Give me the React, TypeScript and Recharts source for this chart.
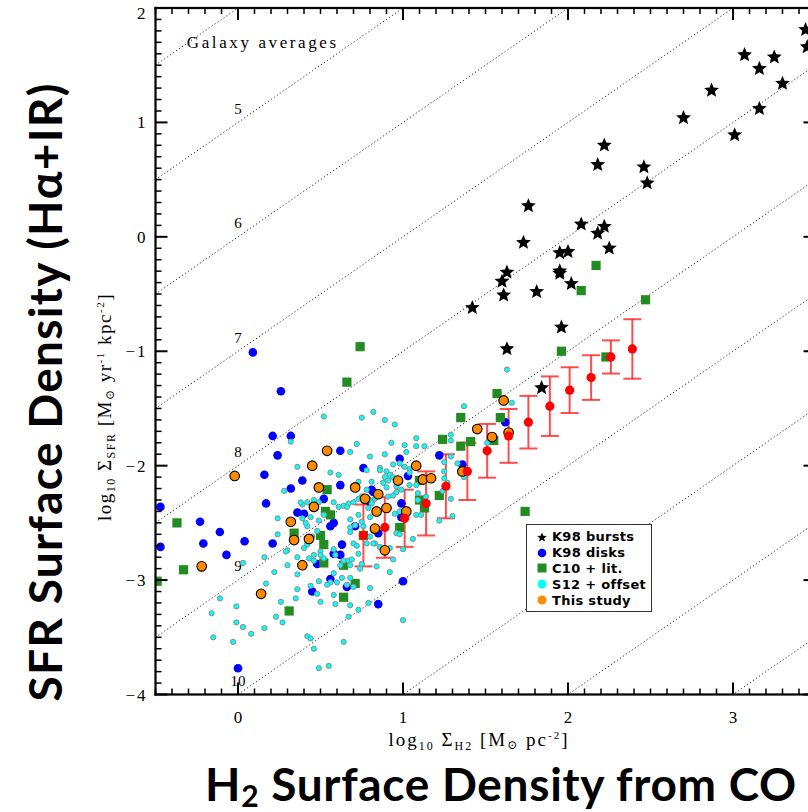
import React from "react";
import { ScatterChart, Scatter, XAxis, YAxis, ReferenceLine, ErrorBar, Legend } from "recharts";

// log10 Sigma_H2 [Msun/pc^2] vs log10 Sigma_SFR [Msun/yr/kpc^2]
const k98Bursts: [number, number][] = [
  [3.44, 1.81], [3.45, 1.66], [3.07, 1.59], [3.25, 1.57], [3.16, 1.47], [3.3, 1.34], [2.87, 1.28],
  [3.16, 1.12], [2.7, 1.04], [3.01, 0.89], [2.22, 0.8], [2.18, 0.63], [2.46, 0.61], [2.48, 0.47],
  [1.76, 0.27], [1.73, -0.05], [2.08, 0.11], [2.22, 0.09], [2.18, 0.03], [2.25, -0.1], [1.95, -0.14],
  [2.0, -0.13], [1.63, -0.31], [1.6, -0.39], [1.95, -0.3], [1.95, -0.32], [2.02, -0.41], [1.61, -0.51],
  [1.81, -0.48], [1.42, -0.62], [1.96, -0.79], [1.63, -0.98], [1.84, -1.32],
];

const k98Disks: [number, number][] = [
  [0.09, -1.01], [0.26, -1.35], [0.21, -1.74], [0.32, -1.74], [0.24, -1.91], [0.62, -1.87], [0.16, -2.08],
  [0.76, -2.02], [1.22, -1.91], [0.98, -1.94], [0.39, -2.13], [0.32, -2.2], [0.17, -2.33], [-0.47, -2.36],
  [-0.23, -2.49], [-0.11, -2.58], [-0.47, -2.71], [-0.21, -2.68], [0.04, -2.66], [0.21, -2.68], [0.36, -2.41],
  [0.4, -2.42], [-0.07, -2.78], [0.45, -3.1], [0.0, -3.77], [0.48, -2.86], [0.52, -2.29], [0.62, -2.17],
  [0.56, -2.53], [0.58, -2.77], [0.62, -2.78], [0.63, -2.69], [0.56, -2.99], [0.66, -3.06], [0.85, -3.21],
  [1.0, -3.01], [0.82, -2.23], [0.85, -2.59], [0.71, -2.53], [0.99, -2.33], [1.36, -1.99], [1.03, -2.09],
  [0.99, -2.45], [0.8, -2.32], [0.81, -2.21], [1.62, -1.62], [0.58, -2.5],
];

const c10Lit: [number, number][] = [
  [2.17, -0.25], [2.08, -0.47], [2.47, -0.55], [1.96, -1.0], [2.23, -1.05], [1.57, -1.37], [1.59, -1.58],
  [1.41, -1.79], [0.74, -0.96], [0.66, -1.27], [1.35, -1.58], [1.24, -1.77], [1.35, -1.83], [-0.37, -2.5],
  [-0.33, -2.91], [-0.49, -3.01], [0.54, -2.21], [0.53, -2.4], [0.56, -2.43], [0.34, -2.59], [0.5, -2.61],
  [0.52, -2.69], [0.52, -2.85], [0.64, -2.87], [0.71, -3.03], [0.64, -3.15], [0.31, -3.27], [0.76, -2.61],
  [0.98, -2.54], [1.1, -2.13], [1.13, -2.37], [1.22, -2.26], [1.1, -2.3], [1.74, -2.4], [1.55, -1.78],
];

const s12Offset: [number, number][] = [
  [1.37, -1.48], [0.75, -1.58], [0.82, -1.53], [0.89, -1.6], [0.95, -1.64], [0.52, -1.57], [0.72, -1.81],
  [0.68, -1.88], [0.93, -1.8], [1.01, -1.82], [1.08, -1.76], [1.08, -1.83], [1.13, -1.83], [1.02, -1.88],
  [0.89, -1.9], [0.8, -1.92], [1.25, -1.97], [1.29, -1.92], [1.29, -1.73], [1.33, -1.98],
  [0.61, -2.08], [0.56, -2.06], [0.78, -2.04], [0.86, -2.02], [0.86, -2.04], [0.94, -1.99], [0.98, -1.98],
  [1.01, -2.01], [1.04, -2.03], [0.9, -2.05], [0.92, -2.08], [0.94, -2.1], [0.89, -2.1], [0.91, -2.13],
  [1.04, -2.06], [0.73, -2.14], [0.81, -2.14], [0.88, -2.15], [0.9, -2.19], [0.96, -2.18], [0.99, -2.21],
  [1.04, -2.17], [1.08, -2.17], [1.14, -2.27], [1.09, -2.24], [1.25, -2.05], [1.25, -2.11], [1.27, -2.15],
  [1.24, -2.22], [1.29, -2.29], [0.46, -2.3], [0.42, -2.32], [0.49, -2.32], [0.58, -2.32], [0.61, -2.36],
  [0.64, -2.35], [0.67, -2.33], [0.7, -2.32], [0.73, -2.29], [0.75, -2.27], [0.66, -2.36], [0.8, -2.3],
  [0.78, -2.21], [0.79, -2.37], [0.81, -2.33], [0.83, -2.29], [0.91, -2.27], [0.94, -2.26], [0.96, -2.23],
  [0.39, -2.46], [0.44, -2.45], [0.49, -2.48], [0.52, -2.43], [0.39, -2.34], [0.68, -2.47], [0.73, -2.43],
  [0.75, -2.49], [0.8, -2.45], [0.76, -2.53], [0.95, -2.42], [0.98, -2.4], [1.08, -2.43], [1.11, -2.43],
  [1.09, -2.3], [0.42, -2.53], [0.48, -2.57], [0.45, -2.62], [0.42, -2.68], [0.68, -2.54], [0.68, -2.58],
  [0.71, -2.52], [0.8, -2.62], [0.83, -2.68], [0.78, -2.68], [0.86, -2.71], [0.7, -2.68], [0.92, -2.72],
  [0.96, -2.59], [0.98, -2.6], [1.06, -2.64], [1.3, -2.44], [1.22, -2.48],
  [0.42, -2.69], [0.4, -2.72], [0.72, -2.7], [0.82, -2.68], [1.0, -2.73], [0.46, -2.78], [0.43, -2.81],
  [0.5, -2.75], [0.5, -2.78], [0.52, -2.81], [0.46, -2.83], [0.58, -2.73], [0.59, -2.78], [0.62, -2.87],
  [0.64, -2.83], [0.67, -2.83], [0.69, -2.82], [0.68, -2.87], [0.73, -2.77], [0.75, -2.86], [0.74, -2.9],
  [0.84, -2.88], [0.94, -2.82], [0.92, -2.93], [0.58, -2.94], [0.6, -3.02], [0.56, -3.02], [0.54, -3.04],
  [0.49, -3.01], [0.44, -3.05], [0.48, -3.12], [0.5, -3.19], [0.58, -3.13], [0.59, -3.21], [0.63, -2.98],
  [0.66, -3.04], [0.68, -2.98], [0.7, -3.06], [0.8, -3.07], [0.68, -3.22], [0.73, -3.26], [0.79, -3.2],
  [0.67, -3.32], [1.0, -3.35], [0.42, -3.49], [0.44, -3.51], [0.46, -3.6], [0.64, -3.54], [0.49, -3.77],
  [0.55, -3.75],
  [0.32, -1.79], [0.36, -2.01], [0.28, -2.22], [0.24, -2.46], [0.24, -2.6], [0.3, -2.74], [0.38, -2.32],
  [0.41, -2.5], [0.03, -2.85], [0.16, -2.8], [0.29, -2.75], [0.36, -2.8], [0.22, -2.93], [0.3, -2.87],
  [0.36, -2.95], [0.17, -3.03], [0.36, -3.08], [-0.11, -3.16], [-0.16, -3.29], [-0.01, -3.23], [0.26, -3.19],
  [0.35, -3.16], [0.23, -3.32], [0.27, -3.37], [-0.01, -3.37], [0.03, -3.41], [0.16, -3.42], [0.08, -3.47],
  [-0.15, -3.5], [-0.03, -3.54],
  [1.63, -1.16], [1.66, -1.45], [1.51, -1.8], [1.29, -1.78], [1.37, -2.1],
];

const thisStudy: [number, number][] = [
  [-0.02, -2.09], [-0.22, -2.88], [0.14, -3.12], [0.54, -1.87], [0.45, -2.0], [0.49, -2.19], [0.46, -2.36],
  [0.32, -2.49], [0.34, -2.65], [0.43, -2.64], [0.39, -2.87], [0.71, -2.19], [0.77, -2.29], [0.85, -2.25],
  [0.9, -2.37], [0.84, -2.4], [0.83, -2.55], [0.89, -2.74], [0.97, -2.13], [1.02, -2.4], [1.08, -2.0],
  [1.12, -2.12], [1.17, -2.11], [1.36, -2.05], [1.45, -1.68], [1.61, -1.43], [1.54, -1.75], [1.64, -1.71],
];

// binned medians with scatter
const binX = [0.76, 0.89, 1.01, 1.14, 1.26, 1.39, 1.51, 1.64, 1.76, 1.89, 2.01, 2.14, 2.26, 2.39];
const binY = [-2.61, -2.54, -2.46, -2.33, -2.18, -2.05, -1.87, -1.74, -1.62, -1.48, -1.34, -1.23, -1.05, -0.98];
const binErr = [0.27, 0.265, 0.25, 0.28, 0.28, 0.25, 0.235, 0.235, 0.23, 0.26, 0.2, 0.195, 0.145, 0.26];

// depletion time lines, log10 t [yr]
const depletionTimes = [4, 5, 6, 7, 8, 9, 10, 11, 12, 13];
const labelledTimes = [5, 6, 7, 8, 9, 10];

const X_DOMAIN: [number, number] = [-0.5, 3.5];
const Y_DOMAIN: [number, number] = [-4, 2];
const SERIF = "'Liberation Serif', 'DejaVu Serif', serif";
const BOLD_SANS = "Lato, 'Open Sans', sans-serif";

// chart box 830 x 812; margins + axis sizes give a 660 x 686.5 plot at (155.5, 8)
const CHART_W = 830;
const CHART_H = 812;
const MARGIN = { top: 8, right: 14.5, bottom: 87.5, left: 95.5 };
const X_AXIS_H = 30;
const Y_AXIS_W = 60;
const PLOT = {
  left: MARGIN.left + Y_AXIS_W,
  top: MARGIN.top,
  width: CHART_W - MARGIN.left - Y_AXIS_W - MARGIN.right,
  height: CHART_H - MARGIN.top - MARGIN.bottom - X_AXIS_H,
};

const [x0, x1] = X_DOMAIN;
const [y0, y1] = Y_DOMAIN;
const toPts = (arr: [number, number][]) => arr.map(([x, y]) => ({ x, y }));
const binned = binX.map((x, i) => ({ x, y: binY[i], err: binErr[i] }));
const timeLabels = [
  ...labelledTimes.map((t) => ({ x: 0, y: 6 - t + 0.12, text: String(t), anchor: "middle" })),
  { x: -0.31, y: 1.69, text: "Galaxy averages", anchor: "start" },
];

const tickRange = (lo: number, hi: number) =>
  Array.from({ length: Math.round((hi - lo) * 10) + 1 }, (_, i) => Math.round((lo + i * 0.1) * 10) / 10);
const xTicks = tickRange(x0, x1);
const yTicks = tickRange(y0, y1);
const isMajor = (v: number) => Math.abs(v - Math.round(v)) < 1e-6;
const fmt = (v: number) => (v < 0 ? `\u2212${Math.abs(v)}` : String(v));
const tickPx = (v: number) => (isMajor(v) ? 12 : 6);
const tickW = (v: number) => (isMajor(v) ? 2 : 1.5);
const sx = (v: number) => PLOT.left + ((v - x0) / (x1 - x0)) * PLOT.width;
const sy = (v: number) => PLOT.top + ((y1 - v) / (y1 - y0)) * PLOT.height;

function BottomTick({ x, y, payload }: any) {
  const v = payload.value;
  if (!isMajor(v)) return <g />;
  return (
    <text x={x} y={y + 28} textAnchor="middle" fontFamily={SERIF} fontSize={17} fill="#000">
      {fmt(v)}
    </text>
  );
}

function LeftTick({ x, y, payload }: any) {
  const v = payload.value;
  if (!isMajor(v)) return <g />;
  const top = v === y1;
  return (
    <text x={x - 8} y={y + (top ? 11 : 6)} textAnchor="end" fontFamily={SERIF} fontSize={17} letterSpacing={2} fill="#000">
      {fmt(v)}
    </text>
  );
}

// IDL-style box with inward ticks on all four sides, drawn as filled bars
function Frame() {
  const L = PLOT.left;
  const T = PLOT.top;
  const R = PLOT.left + PLOT.width;
  const B = PLOT.top + PLOT.height;
  const bw = 2.2;
  return (
    <g fill="#000" stroke="none">
      <rect x={L - bw / 2} y={T - bw / 2} width={PLOT.width + bw} height={bw} />
      <rect x={L - bw / 2} y={B - bw / 2} width={PLOT.width + bw} height={bw} />
      <rect x={L - bw / 2} y={T - bw / 2} width={bw} height={PLOT.height + bw} />
      <rect x={R - bw / 2} y={T - bw / 2} width={bw} height={PLOT.height + bw} />
      {xTicks.map((v) => (
        <g key={`x${v}`}>
          <rect x={sx(v) - tickW(v) / 2} y={B - tickPx(v)} width={tickW(v)} height={tickPx(v)} />
          <rect x={sx(v) - tickW(v) / 2} y={T} width={tickW(v)} height={tickPx(v)} />
        </g>
      ))}
      {yTicks.map((v) => (
        <g key={`y${v}`}>
          <rect x={L} y={sy(v) - tickW(v) / 2} width={tickPx(v)} height={tickW(v)} />
          <rect x={R - tickPx(v)} y={sy(v) - tickW(v) / 2} width={tickPx(v)} height={tickW(v)} />
        </g>
      ))}
    </g>
  );
}

function starPoints(cx: number, cy: number, R: number) {
  const pts: string[] = [];
  for (let i = 0; i < 10; i++) {
    const a = -Math.PI / 2 + (i * Math.PI) / 5;
    const r = i % 2 === 0 ? R : R * 0.45;
    pts.push(`${cx + r * Math.cos(a)},${cy + r * Math.sin(a)}`);
  }
  return pts.join(" ");
}

const StarShape = ({ cx, cy }: any) => <polygon points={starPoints(cx, cy, 7.8)} fill="#000" />;
const DiskShape = ({ cx, cy }: any) => <circle cx={cx} cy={cy} r={4.3} fill="#0000ff" />;
const SquareShape = ({ cx, cy }: any) => <rect x={cx - 4.6} y={cy - 4.6} width={9.2} height={9.2} fill="#228b22" />;
const CyanShape = ({ cx, cy }: any) => (
  <circle cx={cx} cy={cy} r={2.6} fill="#00ffff" stroke="#8c8c8c" strokeWidth={1} />
);
const OrangeShape = ({ cx, cy }: any) => (
  <circle cx={cx} cy={cy} r={4.8} fill="#ff8a00" stroke="#000" strokeWidth={1.1} />
);
const RedShape = ({ cx, cy }: any) => <circle cx={cx} cy={cy} r={4.6} fill="#ff0000" />;
const TextShape = (props: any) => {
  const p = props.payload ?? props;
  const long = p.text.length > 3;
  return (
    <text
      x={props.cx}
      y={props.cy + 5}
      textAnchor={p.anchor}
      fontFamily={SERIF}
      fontSize={long ? 17 : 15}
      letterSpacing={long ? 2.6 : 0}
      fill="#000"
    >
      {p.text}
    </text>
  );
};

const legendItems = [
  { label: "K98 bursts", kind: "star" },
  { label: "K98 disks", kind: "disk" },
  { label: "C10 + lit.", kind: "square" },
  { label: "S12 + offset", kind: "cyan" },
  { label: "This study", kind: "orange" },
];

function LegendMarker({ kind }: { kind: string }) {
  return (
    <svg width={12} height={12} style={{ display: "block" }}>
      {kind === "star" && <polygon points={starPoints(6, 6.5, 5)} fill="#000" />}
      {kind === "disk" && <circle cx={6} cy={6} r={4.3} fill="#0000ff" />}
      {kind === "square" && <rect x={1.5} y={1.5} width={9} height={9} fill="#228b22" />}
      {kind === "cyan" && <circle cx={6} cy={6} r={4.5} fill="#00ffff" />}
      {kind === "orange" && <circle cx={6} cy={6} r={4.5} fill="#ff8a00" />}
    </svg>
  );
}

function LegendBox() {
  return (
    <div
      style={{
        width: 126,
        height: 88,
        boxSizing: "border-box",
        border: "1.5px solid #333",
        background: "#fff",
        padding: "4px 0 0 9px",
      }}
    >
      {legendItems.map((it) => (
        <div key={it.label} style={{ display: "flex", alignItems: "center", height: 15.8 }}>
          <LegendMarker kind={it.kind} />
          <span
            style={{
              marginLeft: 4,
              fontFamily: "'DejaVu Sans', sans-serif",
              fontWeight: 700,
              fontSize: 13,
              color: "#000",
              whiteSpace: "nowrap",
              letterSpacing: 0.3,
            }}
          >
            {it.label}
          </span>
        </div>
      ))}
    </div>
  );
}

export default function App() {
  return (
    <div style={{ position: "absolute", left: 0, top: 0, width: 808, height: 812, overflow: "hidden", background: "#fff" }}>
      <ScatterChart width={CHART_W} height={CHART_H} margin={MARGIN}>
        <XAxis
          type="number"
          dataKey="x"
          domain={X_DOMAIN}
          allowDataOverflow
          ticks={xTicks}
          interval={0}
          height={X_AXIS_H}
          tickSize={0}
          tickMargin={0}
          tick={<BottomTick />}
          axisLine={false}
        />
        <YAxis
          type="number"
          dataKey="y"
          domain={Y_DOMAIN}
          allowDataOverflow
          ticks={yTicks}
          interval={0}
          width={Y_AXIS_W}
          tickSize={0}
          tickMargin={0}
          tick={<LeftTick />}
          axisLine={false}
        />
        {depletionTimes.map((t) => (
          <ReferenceLine
            key={t}
            segment={[
              { x: x0, y: x0 + 6 - t },
              { x: x1, y: x1 + 6 - t },
            ]}
            ifOverflow="hidden"
            stroke="#000"
            strokeWidth={1}
            strokeDasharray="1 2.6"
          />
        ))}
        <Scatter data={timeLabels} shape={<TextShape />} isAnimationActive={false} />
        <Scatter data={toPts(k98Bursts)} shape={<StarShape />} isAnimationActive={false} />
        <Scatter data={toPts(k98Disks)} shape={<DiskShape />} isAnimationActive={false} />
        <Scatter data={toPts(c10Lit)} shape={<SquareShape />} isAnimationActive={false} />
        <Scatter data={toPts(s12Offset)} shape={<CyanShape />} isAnimationActive={false} />
        <Scatter data={toPts(thisStudy)} shape={<OrangeShape />} isAnimationActive={false} />
        <Scatter data={binned} shape={<RedShape />} isAnimationActive={false}>
          <ErrorBar dataKey="err" direction="y" width={9} stroke="#ff2020" strokeOpacity={0.8} strokeWidth={2} />
        </Scatter>
        <Legend
          layout="vertical"
          align="center"
          verticalAlign="middle"
          content={() => <LegendBox />}
          wrapperStyle={{ position: "absolute", left: 526, top: 524, width: 126, height: 88 }}
        />
      </ScatterChart>
      <svg width={808} height={812} style={{ position: "absolute", left: 0, top: 0, pointerEvents: "none" }}>
        <Frame />
        <text
          transform="translate(62 392) rotate(-90)"
          textAnchor="middle"
          fontFamily={BOLD_SANS}
          fontWeight={700}
          fontSize={46}
          letterSpacing={1.3}
          fill="#000"
        >
          SFR Surface Density (Hα+IR)
        </text>
        <text
          transform="translate(111 407) rotate(-90)"
          textAnchor="middle"
          fontFamily={SERIF}
          fontSize={19}
          letterSpacing={1.5}
          fill="#000"
        >
          log<tspan fontSize={12} dy={4}>10</tspan>
          <tspan dy={-4}> Σ</tspan>
          <tspan fontSize={12} dy={4}>SFR</tspan>
          <tspan dy={-4}> [M</tspan>
          <tspan fontSize={12} dy={3}>⊙</tspan>
          <tspan dy={-3}> yr</tspan>
          <tspan fontSize={11} dy={-7}>-1</tspan>
          <tspan dy={7}> kpc</tspan>
          <tspan fontSize={11} dy={-7}>-2</tspan>
          <tspan dy={7}>]</tspan>
        </text>
        <text x={479} y={746} textAnchor="middle" fontFamily={SERIF} fontSize={19} letterSpacing={2} fill="#000">
          log<tspan fontSize={12} dy={4}>10</tspan>
          <tspan dy={-4}> Σ</tspan>
          <tspan fontSize={12} dy={4}>H2</tspan>
          <tspan dy={-4}> [M</tspan>
          <tspan fontSize={12} dy={3}>⊙</tspan>
          <tspan dy={-3}> pc</tspan>
          <tspan fontSize={11} dy={-7}>-2</tspan>
          <tspan dy={7}>]</tspan>
        </text>
        <text
          x={501}
          y={801}
          textAnchor="middle"
          fontFamily={BOLD_SANS}
          fontWeight={700}
          fontSize={46}
          letterSpacing={0.7}
          fill="#000"
        >
          H<tspan fontSize={30} dy={6}>2</tspan>
          <tspan dy={-6}> Surface Density from CO</tspan>
        </text>
      </svg>
    </div>
  );
}
